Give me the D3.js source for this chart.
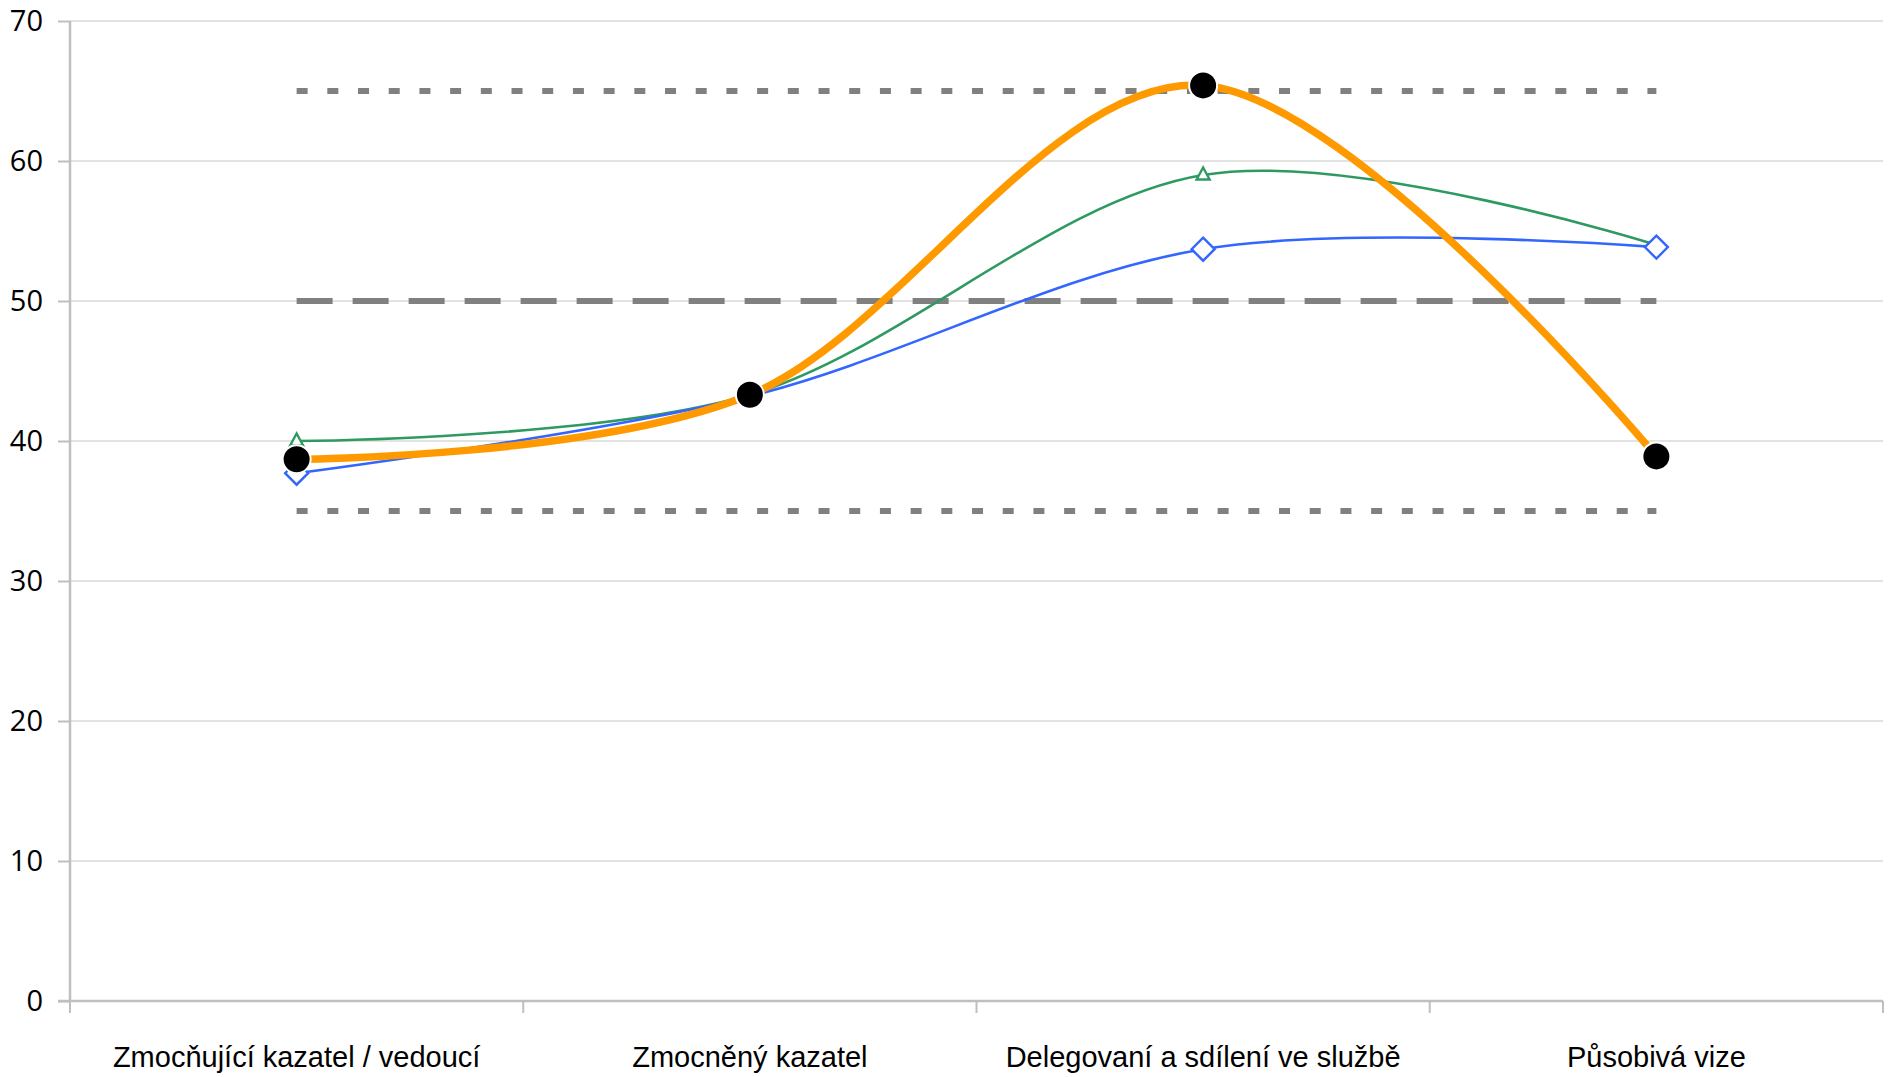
<!DOCTYPE html>
<html>
<head>
<meta charset="utf-8">
<script src="https://cdn.jsdelivr.net/npm/d3@7"></script>
<style>
html,body{margin:0;padding:0;background:#fff;}
svg{display:block;}
</style>
</head>
<body>
<svg id="chart" width="1895" height="1077"></svg>
<script>
const categories = ["Zmocňující kazatel / vedoucí", "Zmocněný kazatel", "Delegovaní a sdílení ve službě", "Působivá vize"];
const orangeValues = [38.7, 43.3, 65.4, 38.9];
const greenValues = [40.0, 43.3, 59.0, 54.0];
const blueValues = [37.7, 43.2, 53.7, 53.85];
const upperValues = [65, 65, 65, 65];
const midValues = [50, 50, 50, 50];
const lowerValues = [35, 35, 35, 35];
const yTicks = [0, 10, 20, 30, 40, 50, 60, 70];

(function () {
const svg = d3.select("#chart");
const mLeft = 70, mRight = 1883, mTop = 21, mBottom = 1001;

const x = d3.scaleBand().domain(categories).range([mLeft, mRight]).padding(0);
const y = d3.scaleLinear().domain([0, 70]).range([mBottom, mTop]);
const cx = c => x(c) + x.bandwidth() / 2;

// gridlines
svg.append("g").selectAll("line").data(yTicks.filter(t => t > 0)).join("line")
  .attr("x1", mLeft).attr("x2", mRight)
  .attr("y1", d => y(d)).attr("y2", d => y(d))
  .attr("stroke", "#d9d9d9").attr("stroke-width", 1.5);

// y axis
const yAxis = svg.append("g").attr("transform", `translate(${mLeft},0)`)
  .call(d3.axisLeft(y).tickValues(yTicks).tickSize(12).tickPadding(15));
yAxis.select(".domain").attr("stroke", "#bfbfbf").attr("stroke-width", 2.5)
  .attr("d", `M0,${mTop}V${mBottom}`);
yAxis.selectAll(".tick line").attr("stroke", "#bfbfbf").attr("stroke-width", 2);
yAxis.selectAll(".tick text")
  .attr("font-family", "'Open Sans', 'Noto Sans', sans-serif")
  .attr("font-size", 29).attr("fill", "#000").attr("dy", "0.34em");

// x axis
const xAxis = svg.append("g").attr("transform", `translate(0,${mBottom})`);
xAxis.append("line").attr("x1", mLeft - 12).attr("x2", mRight)
  .attr("y1", 0).attr("y2", 0).attr("stroke", "#bfbfbf").attr("stroke-width", 2.5);
const boundaries = categories.map(c => x(c)).concat([mRight]);
xAxis.selectAll("line.tk").data(boundaries).join("line").attr("class", "tk")
  .attr("x1", d => d).attr("x2", d => d).attr("y1", 0).attr("y2", 12)
  .attr("stroke", "#bfbfbf").attr("stroke-width", 2);
xAxis.selectAll("text").data(categories).join("text")
  .attr("x", d => cx(d)).attr("y", 66)
  .attr("text-anchor", "middle")
  .attr("font-family", "'Liberation Sans', Arial, sans-serif")
  .attr("font-size", 29).attr("fill", "#000")
  .text(d => d);

const straight = d3.line().x((d, i) => cx(categories[i])).y(d => y(d));
const smooth = d3.line().x((d, i) => cx(categories[i])).y(d => y(d)).curve(d3.curveCardinal.tension(0));

// reference lines
svg.append("path").datum(upperValues).attr("d", straight)
  .attr("fill", "none").attr("stroke", "#808080").attr("stroke-width", 6)
  .attr("stroke-dasharray", "11,19.7");
svg.append("path").datum(lowerValues).attr("d", straight)
  .attr("fill", "none").attr("stroke", "#808080").attr("stroke-width", 6)
  .attr("stroke-dasharray", "11,19.7");
svg.append("path").datum(midValues).attr("d", straight)
  .attr("fill", "none").attr("stroke", "#808080").attr("stroke-width", 6)
  .attr("stroke-dasharray", "36,20");

// green series
svg.append("path").datum(greenValues).attr("d", smooth)
  .attr("fill", "none").attr("stroke", "#2e9a62").attr("stroke-width", 2.6);
svg.append("g").selectAll("path").data(greenValues).join("path")
  .attr("transform", (d, i) => `translate(${cx(categories[i])},${y(d)})`)
  .attr("d", "M0,-7.5L6.5,4.5L-6.5,4.5Z")
  .attr("fill", "#fff").attr("stroke", "#2e9a62").attr("stroke-width", 2.4);

// blue series
svg.append("path").datum(blueValues).attr("d", smooth)
  .attr("fill", "none").attr("stroke", "#3366ff").attr("stroke-width", 2.6);
svg.append("g").selectAll("path").data(blueValues).join("path")
  .attr("transform", (d, i) => `translate(${cx(categories[i])},${y(d)})`)
  .attr("d", "M0,-11.5L11.5,0L0,11.5L-11.5,0Z")
  .attr("fill", "#fff").attr("stroke", "#3366ff").attr("stroke-width", 2.4);

// orange series
svg.append("path").datum(orangeValues).attr("d", smooth)
  .attr("fill", "none").attr("stroke", "#ff9900").attr("stroke-width", 7.5)
  .attr("stroke-linejoin", "round");
svg.append("g").selectAll("circle").data(orangeValues).join("circle")
  .attr("cx", (d, i) => cx(categories[i])).attr("cy", d => y(d))
  .attr("r", 14).attr("fill", "#000").attr("stroke", "#fff").attr("stroke-width", 2);
})();
</script>
</body>
</html>
